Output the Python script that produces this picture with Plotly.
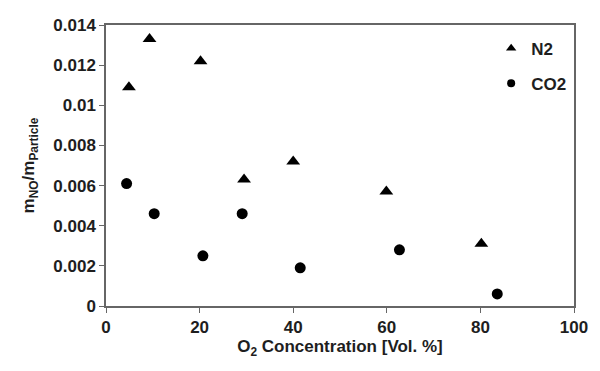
import plotly.graph_objects as go

n2_x = [4.9, 9.3, 20.2, 29.5, 40.0, 59.9, 80.2]
n2_y = [0.0109, 0.0133, 0.0122, 0.0063, 0.0072, 0.0057, 0.0031]
co2_x = [4.4, 10.3, 20.7, 29.1, 41.5, 62.7, 83.6]
co2_y = [0.0061, 0.0046, 0.0025, 0.0046, 0.0019, 0.0028, 0.0006]

font_family = "Liberation Sans, Arial, sans-serif"

fig = go.Figure()
fig.add_trace(go.Scatter(x=n2_x, y=n2_y, mode="markers", name="<b>N2</b>",
                         legendgroup="n2", showlegend=False,
                         marker=dict(symbol="triangle-up", size=12, color="black")))
fig.add_trace(go.Scatter(x=co2_x, y=co2_y, mode="markers", name="<b>CO2</b>",
                         legendgroup="co2", showlegend=False,
                         marker=dict(symbol="circle", size=11, color="black")))
# legend entries (smaller symbols, as in the reference)
fig.add_trace(go.Scatter(x=[None], y=[None], mode="markers", name="<b>N2</b>",
                         legendgroup="n2",
                         marker=dict(symbol="triangle-up", size=9, color="black")))
fig.add_trace(go.Scatter(x=[None], y=[None], mode="markers", name="<b>CO2</b>",
                         legendgroup="co2",
                         marker=dict(symbol="circle", size=8, color="black")))

fig.update_layout(
    width=600, height=371,
    margin=dict(l=106, r=20, t=25, b=65),
    paper_bgcolor="white", plot_bgcolor="white",
    font=dict(family=font_family, size=17, color="#1e1e1e"),
    showlegend=True,
    legend=dict(x=0.823, y=0.98, xanchor="left", yanchor="top",
                bgcolor="rgba(0,0,0,0)", font=dict(size=17),
                itemwidth=30),
    xaxis=dict(range=[0, 100], dtick=20, showgrid=False, zeroline=False,
               showline=True, linecolor="#666", linewidth=1.5, mirror=True,
               ticks="outside", ticklen=5, tickcolor="#666",
               tickfont=dict(size=17),
               title=dict(text="<b>O<sub>2</sub> Concentration [Vol. %]</b>",
                          font=dict(size=17), standoff=2)),
    yaxis=dict(range=[0, 0.014], dtick=0.002, showgrid=False, zeroline=False,
               showline=True, linecolor="#666", linewidth=1.5, mirror=True,
               ticks="outside", ticklen=5, tickcolor="#666",
               tickfont=dict(size=17),
               title=dict(text="<b>m<sub>NO</sub>/m<sub>Particle</sub></b>",
                          font=dict(size=17), standoff=14)),
)
fig.update_xaxes(tickprefix="<b>", ticksuffix="</b>")
fig.update_yaxes(tickprefix="<b>", ticksuffix="</b>")

fig.write_html("out.html")
